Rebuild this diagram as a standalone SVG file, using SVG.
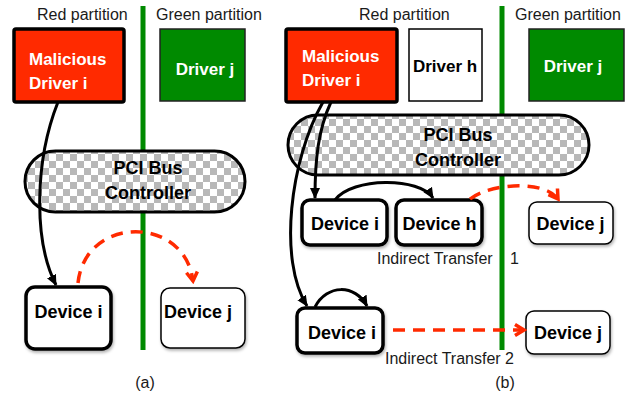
<svg xmlns="http://www.w3.org/2000/svg" width="639" height="397" viewBox="0 0 639 397">
<style>
.lbl{font-family:"Liberation Sans",Arial,sans-serif;font-size:16px;fill:#1a1a1a}
.bw{font-family:"Liberation Sans",Arial,sans-serif;font-size:17px;font-weight:bold;fill:#fff}
.bb{font-family:"Liberation Sans",Arial,sans-serif;font-size:18px;font-weight:bold;fill:#000}
.red{fill:#ff2a00;stroke:#000;stroke-width:3.5}
.grn{fill:#008a00;stroke:#222;stroke-width:1.5}
.wht{fill:#fff;stroke:#000;stroke-width:1.5}
.devT{fill:#fff;stroke:#000;stroke-width:3.5}
.devt{fill:#fff;stroke:#000;stroke-width:1.5}
.pill{fill:url(#chk);stroke:#000;stroke-width:3}
.part{stroke:#008a00;stroke-width:5}
.blk{fill:none;stroke:#000;stroke-width:3;marker-end:url(#ah)}
.rd{fill:none;stroke:#ff2a00;stroke-width:3.5;stroke-dasharray:12 8;marker-end:url(#rh)}
</style>
<defs>
<pattern id="chk" patternUnits="userSpaceOnUse" width="14" height="14">
<rect width="14" height="14" fill="#fff"/>
<rect width="7" height="7" fill="#b8b8b8"/>
<rect x="7" y="7" width="7" height="7" fill="#b8b8b8"/>
</pattern>
<filter id="sh" x="-10%" y="-10%" width="130%" height="140%">
<feDropShadow dx="1" dy="2" stdDeviation="1.5" flood-color="#000" flood-opacity="0.3"/>
</filter>
<marker id="ah" markerUnits="userSpaceOnUse" markerWidth="12" markerHeight="12" refX="10" refY="5" orient="auto" viewBox="0 0 12 10">
<path d="M0,0 L11,5 L0,10 z" fill="#000"/>
</marker>
<marker id="rh" markerUnits="userSpaceOnUse" markerWidth="14" markerHeight="16" refX="11" refY="7" orient="auto" viewBox="0 0 14 14">
<path d="M2,1.5 L11,7 L2,12.5" fill="none" stroke="#ff2a00" stroke-width="3.5" stroke-dasharray="none"/>
</marker>
</defs>
<rect width="639" height="397" fill="#fff"/>

<g id="labels">
<text class="lbl" x="37" y="20">Red partition</text>
<text class="lbl" x="156" y="20">Green partition</text>
<text class="lbl" x="359" y="20">Red partition</text>
<text class="lbl" x="515" y="20">Green partition</text>
<text class="lbl" x="377" y="264">Indirect Transfer <tspan x="510">1</tspan></text>
<text class="lbl" x="385" y="364">Indirect Transfer 2</text>
<text class="lbl" x="145" y="388" text-anchor="middle">(a)</text>
<text class="lbl" x="505" y="388" text-anchor="middle">(b)</text>
</g>

<g id="partitions">
<line class="part" x1="143" y1="6" x2="143" y2="350"/>
<line class="part" x1="502" y1="6" x2="502" y2="350"/>
</g>

<g id="a-malicious-driver-i">
<rect class="red" x="14" y="29" width="110" height="73" rx="2"/>
<text class="bw" x="29" y="65">Malicious</text>
<text class="bw" x="29" y="89">Driver i</text>
</g>
<g id="a-driver-j">
<rect class="grn" x="160" y="29" width="85" height="72"/>
<text class="bw" x="205" y="75" text-anchor="middle">Driver j</text>
</g>
<g id="a-pci">
<rect class="pill" x="25" y="151" width="220" height="61" rx="30.5"/>
<text class="bb" x="148" y="174" text-anchor="middle">PCI Bus</text>
<text class="bb" x="148" y="199" text-anchor="middle">Controller</text>
</g>
<g id="a-device-i">
<rect class="devT" x="26" y="287" width="85" height="62" rx="9" filter="url(#sh)"/>
<text class="bb" x="68.5" y="318" text-anchor="middle">Device i</text>
</g>
<g id="a-device-j">
<rect class="devt" x="161" y="288" width="84" height="60" rx="9" filter="url(#sh)"/>
<text class="bb" x="198" y="318" text-anchor="middle">Device j</text>
</g>

<g id="b-malicious-driver-i">
<rect class="red" x="286" y="29" width="111" height="73" rx="2"/>
<text class="bw" x="302" y="62">Malicious</text>
<text class="bw" x="302" y="86">Driver i</text>
</g>
<g id="b-driver-h">
<rect class="wht" x="409" y="29" width="73" height="72"/>
<text class="bb" x="445" y="72" text-anchor="middle" style="font-size:17px">Driver h</text>
</g>
<g id="b-driver-j">
<rect class="grn" x="529" y="29" width="95" height="72"/>
<text class="bw" x="573" y="72" text-anchor="middle">Driver j</text>
</g>
<g id="b-pci">
<rect class="pill" x="288" y="115" width="301" height="60" rx="30"/>
<text class="bb" x="458" y="141" text-anchor="middle">PCI Bus</text>
<text class="bb" x="458" y="166" text-anchor="middle">Controller</text>
</g>
<g id="b-device-i-top">
<rect class="devT" x="302" y="200" width="85" height="45" rx="8" filter="url(#sh)"/>
<text class="bb" x="345" y="230" text-anchor="middle">Device i</text>
</g>
<g id="b-device-h">
<rect class="devT" x="396" y="200" width="86" height="45" rx="8" filter="url(#sh)"/>
<text class="bb" x="439.5" y="230" text-anchor="middle">Device h</text>
</g>
<g id="b-device-j-top">
<rect class="devt" x="529" y="202" width="84" height="42" rx="8" filter="url(#sh)"/>
<text class="bb" x="570.5" y="230" text-anchor="middle">Device j</text>
</g>
<g id="b-device-i-bottom">
<rect class="devT" x="297" y="308" width="86" height="45" rx="8" filter="url(#sh)"/>
<text class="bb" x="342" y="339" text-anchor="middle">Device i</text>
</g>
<g id="b-device-j-bottom">
<rect class="devt" x="526" y="311" width="84" height="43" rx="8" filter="url(#sh)"/>
<text class="bb" x="568" y="339" text-anchor="middle">Device j</text>
</g>

<g id="connectors">
<path class="blk" d="M58,102 C35,160 33,240 56,285"/>
<path class="rd" d="M78,283 C85,215 185,215 193,281"/>
<path class="blk" d="M331,102 C318,130 315,160 315,198"/>
<path class="blk" d="M323,102 C290,160 278,260 307,306"/>
<path class="blk" d="M335,200 C352,177 420,177 433,198"/>
<path class="rd" d="M470,199 C490,183 545,180 558,199"/>
<path class="blk" d="M315,307 C327,284 355,284 367,306"/>
<path class="rd" d="M393,330 L524,330"/>
</g>
</svg>
